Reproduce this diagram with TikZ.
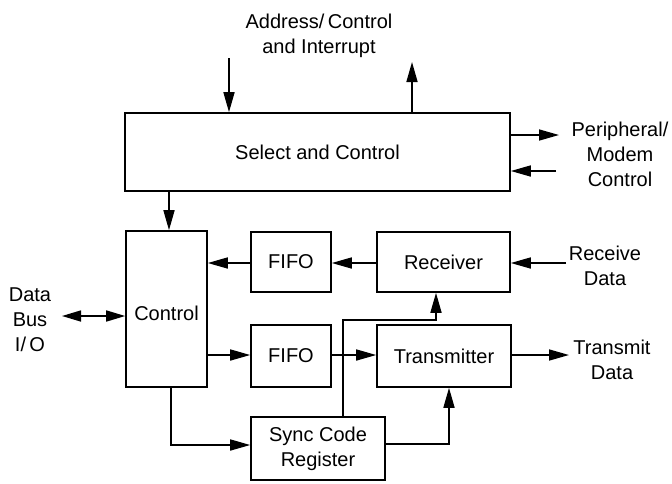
\documentclass[tikz,border=0pt]{standalone}
\usepackage{fontspec}
\setmainfont{Liberation Sans}
\usetikzlibrary{arrows.meta,calc}
\begin{document}
\begin{tikzpicture}[x=1pt,y=-1pt,
  blk/.style={draw,line width=1.6pt,rectangle,inner sep=0pt,font=\fontsize{20}{25}\selectfont},
  lbl/.style={align=center,inner sep=0pt,font=\fontsize{20}{25}\selectfont},
  conn/.style={line width=1.6pt,-{Triangle[length=20pt,width=11pt]}},
  bconn/.style={line width=1.6pt,{Triangle[length=19pt,width=11pt]}-{Triangle[length=19pt,width=11pt]}}]
\useasboundingbox (0,0) rectangle (672,483);
% blocks
\node[blk,minimum width=385pt,minimum height=78pt] (sel) at (317.5,152) {Select and Control};
\node[blk,minimum width=81pt,minimum height=156pt] (ctrl) at (166.5,309) {};
\node[lbl] (ctrltext) at (166.5,313) {Control};
\node[blk,minimum width=80pt,minimum height=60pt] (fifo1) at (291,262) {FIFO};
\node[blk,minimum width=133pt,minimum height=60pt] (rcv) at (443.5,262) {Receiver};
\node[blk,minimum width=80pt,minimum height=62pt] (fifo2) at (291,356) {FIFO};
\node[blk,minimum width=134pt,minimum height=62pt] (tx) at (444,356) {Transmitter};
\node[blk,minimum width=134pt,minimum height=63pt,align=center] (sync) at (318,448.5) {Sync Code\\Register};
% labels
\node[lbl] (addr) at (319,36) {Address/\,Control\\and Interrupt};
\node[lbl] (periph) at (620,154) {Peripheral/\\Modem\\Control};
\node[lbl] (rxd) at (605,266) {Receive\\Data};
\node[lbl] (txd) at (612,360) {Transmit\\Data};
\node[lbl] (dbus) at (30,320) {Data\\Bus\\I/\,O};
% free ends
\coordinate (addrin) at (229,58);
\coordinate (addrout) at (412,62);
\coordinate (pout) at (559,135);
\coordinate (pin) at (556,171);
\coordinate (rxin) at (566,263);
\coordinate (txout) at (569,355);
\coordinate (dbend) at (62,316);
% connectors
\draw[conn] (addrin) -- (addrin |- sel.north);
\draw[conn] (addrout |- sel.north) -- (addrout);
\draw[conn] (sel.east |- pout) -- (pout);
\draw[conn] (pin) -- (sel.east |- pin);
\draw[conn] (169,0 |- sel.south) -- (169,0 |- ctrl.north);
\draw[conn] (fifo1.west |- 0,263) -- (ctrl.east |- 0,263);
\draw[conn] (rcv.west |- 0,263) -- (fifo1.east |- 0,263);
\draw[conn] (rxin) -- (rcv.east |- rxin);
\draw[bconn] (dbend) -- (ctrl.west |- dbend);
\draw[conn] (ctrl.east |- 0,355) -- (fifo2.west |- 0,355);
\draw[conn] (fifo2.east |- 0,355) -- (tx.west |- 0,355);
\draw[conn] (tx.east |- txout) -- (txout);
\draw[conn] (171,0 |- ctrl.south) |- (sync.west |- 0,445);
\draw[conn] (sync.east |- 0,444) -| (449,0 |- tx.south);
\draw[conn] (343,0 |- sync.north) |- (436,320) -- (436,0 |- rcv.south);
\end{tikzpicture}
\end{document}
